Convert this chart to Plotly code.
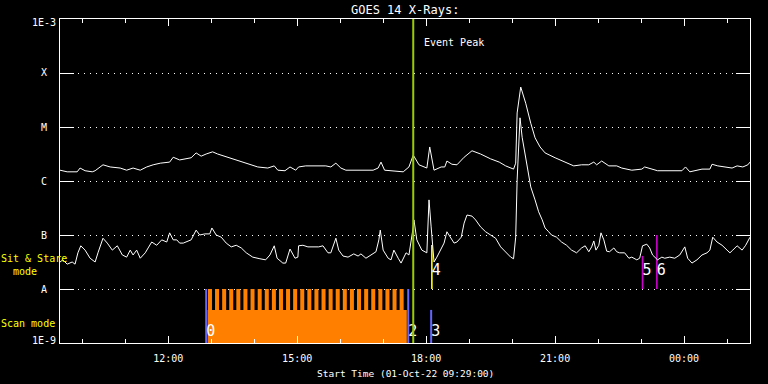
import pandas as pd
import plotly.graph_objects as go

# ---------------- data ----------------
START = pd.Timestamp("2022-10-01 09:29:00")
END = pd.Timestamp("2022-10-02 01:32:00")

# GOES long channel (1-8 A): minutes after start, log10 flux (W/m^2)
long_min = [0, 10, 24, 28, 35, 45, 49, 60, 70, 84, 93, 102, 112, 121, 130, 140, 153, 158, 167,
            183, 190, 197, 204, 213, 220, 234, 248, 262, 276, 290, 299, 304, 314, 321, 329, 333,
            343, 371, 378, 385, 392, 399, 437, 444, 448, 453, 465, 479, 487, 493, 501, 512, 516,
            522, 532, 537, 540, 547, 554, 564, 575, 587, 601, 613, 622, 633, 636, 638, 643, 650,
            657, 663, 670, 677, 691, 705, 717, 728, 738, 745, 749, 756, 766, 777, 784, 798, 812,
            816, 826, 834, 868, 873, 879, 896, 907, 910, 918, 931, 938, 945, 953, 960, 963]
long_log = [-5.80, -5.83, -5.83, -5.76, -5.81, -5.83, -5.81, -5.70, -5.74, -5.76, -5.80, -5.76,
            -5.80, -5.74, -5.70, -5.67, -5.65, -5.56, -5.61, -5.57, -5.48, -5.54, -5.50, -5.46,
            -5.50, -5.56, -5.61, -5.67, -5.74, -5.76, -5.72, -5.80, -5.81, -5.74, -5.80, -5.74,
            -5.72, -5.72, -5.74, -5.67, -5.76, -5.80, -5.80, -5.76, -5.65, -5.80, -5.81, -5.83,
            -5.74, -5.52, -5.70, -5.76, -5.37, -5.80, -5.74, -5.74, -5.63, -5.69, -5.70, -5.56,
            -5.44, -5.50, -5.59, -5.65, -5.72, -5.78, -5.67, -4.74, -4.26, -4.56, -4.93, -5.20,
            -5.37, -5.48, -5.57, -5.65, -5.72, -5.70, -5.70, -5.65, -5.70, -5.63, -5.72, -5.72,
            -5.76, -5.80, -5.78, -5.74, -5.78, -5.81, -5.81, -5.74, -5.83, -5.78, -5.78, -5.69,
            -5.72, -5.74, -5.76, -5.72, -5.74, -5.70, -5.65]

# GOES short channel (0.5-4 A)
short_min = [0, 4, 10, 17, 21, 25, 29, 35, 42, 49, 53, 60, 66, 73, 80, 87, 93, 98, 102, 107, 112,
             119, 123, 128, 135, 142, 149, 153, 158, 163, 167, 172, 183, 190, 195, 202, 209, 212,
             218, 225, 232, 239, 246, 253, 260, 269, 279, 287, 293, 299, 303, 311, 315, 321, 328,
             332, 333, 339, 346, 361, 367, 374, 378, 385, 389, 395, 402, 410, 416, 420, 427, 434,
             441, 445, 447, 451, 458, 462, 466, 472, 476, 483, 487, 493, 494, 498, 505, 512, 515,
             518, 522, 526, 532, 536, 540, 546, 550, 554, 560, 564, 568, 575, 580, 587, 594, 601,
             608, 615, 622, 629, 633, 636, 638, 642, 645, 650, 657, 663, 668, 673, 677, 682, 686,
             693, 700, 707, 714, 721, 728, 733, 738, 742, 745, 748, 752, 755, 759, 763, 767, 773,
             777, 781, 788, 794, 798, 805, 809, 813, 819, 823, 827, 834, 840, 844, 851, 858, 865,
             872, 876, 882, 889, 896, 903, 907, 911, 917, 924, 931, 935, 939, 945, 952, 957, 963]
short_log = [-7.50, -7.46, -7.54, -7.50, -7.54, -7.33, -7.20, -7.28, -7.43, -7.50, -7.33, -7.06,
             -7.15, -7.28, -7.20, -7.37, -7.41, -7.28, -7.37, -7.28, -7.43, -7.33, -7.24, -7.13,
             -7.19, -7.09, -7.13, -6.96, -7.09, -7.09, -7.15, -7.15, -7.09, -6.91, -7.00, -6.98,
             -6.98, -6.87, -7.00, -7.04, -7.15, -7.22, -7.19, -7.24, -7.33, -7.41, -7.44, -7.46,
             -7.37, -7.20, -7.43, -7.52, -7.52, -7.26, -7.43, -7.41, -7.20, -7.19, -7.22, -7.22,
             -7.20, -7.33, -7.33, -7.06, -7.28, -7.39, -7.41, -7.35, -7.39, -7.35, -7.43, -7.37,
             -7.31, -7.09, -6.91, -7.28, -7.43, -7.46, -7.28, -7.43, -7.52, -7.33, -7.37, -6.85,
             -6.72, -7.09, -7.28, -7.33, -6.35, -6.85, -7.50, -7.41, -7.24, -7.15, -6.94, -7.06,
             -7.15, -7.13, -7.04, -6.78, -6.63, -6.65, -6.72, -6.85, -6.94, -7.00, -7.06, -7.22,
             -7.31, -7.41, -7.44, -7.04, -5.98, -4.83, -5.19, -5.61, -6.11, -6.35, -6.57, -6.72,
             -6.87, -6.94, -7.00, -7.04, -7.13, -7.19, -7.28, -7.33, -7.24, -7.20, -7.31, -7.22,
             -7.11, -7.28, -7.19, -6.96, -7.09, -7.30, -7.31, -7.24, -7.31, -7.33, -7.33, -7.43,
             -7.41, -7.46, -7.43, -7.20, -7.17, -7.24, -7.37, -7.46, -7.41, -7.43, -7.41, -7.43,
             -7.37, -7.22, -7.43, -7.52, -7.46, -7.37, -7.33, -7.28, -7.04, -7.13, -7.19, -7.28,
             -7.33, -7.28, -7.20, -7.28, -7.19, -7.04]

# y-axis flux levels and their labels
level_flux = [1e-9, 1e-8, 1e-7, 1e-6, 1e-5, 1e-4, 1e-3]
level_text = ["1E-9", "A", "B", "C", "M", "X", "1E-3"]

# event peak (minutes after start)
event_peak_min = 493
event_peak_text = "Event Peak"

# scan-mode observations
scan_line_min = [204, 486, 518]
scan_line_text = ["0", "2", "3"]
scan_line_top = [1e-8, 1e-8, 4.1e-9]
scan_block_start, scan_block_end = 206, 484
scan_block_top = 4.1e-9
raster_start = [206.5, 216.4, 226.3, 236.2, 246.1, 256.0, 265.9, 275.9, 285.8, 295.7, 305.6,
                315.5, 325.4, 335.3, 345.2, 355.1, 365.0, 374.9, 384.8, 394.7, 404.6, 414.5,
                424.5, 434.4, 444.3, 454.2, 464.1, 474.0]
raster_end = [212.1, 222.0, 231.9, 241.8, 251.7, 261.6, 271.5, 281.5, 291.4, 301.3, 311.2,
              321.1, 331.0, 340.9, 350.8, 360.7, 370.6, 380.5, 390.4, 400.3, 410.2, 420.1,
              430.1, 440.0, 449.9, 459.8, 469.7, 479.6]

# sit & stare observations
stare_min = [519, 813, 833]
stare_text = ["4", "5", "6"]
stare_top = [6.5e-8, 4.1e-8, 1.0e-7]
stare_color = ["#ffff00", "#cc00cc", "#cc00cc"]

label_flux = 1.55e-9
stare_label_flux = 2.15e-8

# ---------------- figure ----------------
def t(m):
    return START + pd.Timedelta(minutes=m)

FONT = "DejaVu Sans Mono"
fig = go.Figure()

# orange scan block
fig.add_trace(go.Scatter(
    x=[t(scan_block_start), t(scan_block_end), t(scan_block_end), t(scan_block_start)],
    y=[1e-9, 1e-9, scan_block_top, scan_block_top],
    fill="toself", fillcolor="#ff8000", line=dict(width=0), mode="lines", hoverinfo="skip"))
cx, cy = [], []
for s, e in zip(raster_start, raster_end):
    cx += [t(s), t(e), t(e), t(s), t(s), None]
    cy += [scan_block_top, scan_block_top, 1e-8, 1e-8, scan_block_top, None]
fig.add_trace(go.Scatter(x=cx, y=cy, fill="toself", fillcolor="#ff8000",
                         line=dict(width=0), mode="lines", hoverinfo="skip"))

# scan lines
for m, top in zip(scan_line_min, scan_line_top):
    fig.add_trace(go.Scatter(x=[t(m), t(m)], y=[1e-9, top], mode="lines",
                             line=dict(color="#6464ff", width=2), hoverinfo="skip"))
fig.add_trace(go.Scatter(x=[t(m) for m in scan_line_min], y=[label_flux] * 3,
                         mode="text", text=scan_line_text, textposition="middle right",
                         textfont=dict(family=FONT, size=15, color="white")))

# sit & stare lines
for m, top, c in zip(stare_min, stare_top, stare_color):
    fig.add_trace(go.Scatter(x=[t(m), t(m)], y=[1e-8, top], mode="lines",
                             line=dict(color=c, width=1.6), hoverinfo="skip"))
fig.add_trace(go.Scatter(x=[t(m) for m in stare_min], y=[stare_label_flux] * 3,
                         mode="text", text=stare_text, textposition="middle right",
                         textfont=dict(family=FONT, size=15, color="white")))

# light curves
fig.add_trace(go.Scatter(x=[t(m) for m in long_min], y=[10 ** v for v in long_log],
                         mode="lines", line=dict(color="white", width=1)))
fig.add_trace(go.Scatter(x=[t(m) for m in short_min], y=[10 ** v for v in short_log],
                         mode="lines", line=dict(color="white", width=1)))

# event peak line
fig.add_trace(go.Scatter(x=[t(event_peak_min)] * 2, y=[1e-9, 1e-3], mode="lines",
                         line=dict(color="#99cc00", width=2), hoverinfo="skip"))

annotations = []
for i, lab in enumerate(level_text):
    ys = -3 if i == 6 else (3 if i == 0 else 0)
    annotations.append(dict(text=lab, xref="paper", yref="paper", x=-0.0232, y=i / 6,
                            xanchor="center", yanchor="middle", yshift=ys, showarrow=False,
                            font=dict(family=FONT, size=10, color="white")))
annotations += [
    dict(text="GOES 14 X-Rays:", xref="paper", yref="paper", x=0.5, y=1.0278,
         xanchor="center", yanchor="middle", showarrow=False,
         font=dict(family=FONT, size=12, color="white")),
    dict(text=event_peak_text, xref="x", yref="paper", x=t(event_peak_min), y=0.926,
         xanchor="left", yanchor="middle", xshift=9, showarrow=False,
         font=dict(family=FONT, size=10, color="white")),
    dict(text="Start Time (01-Oct-22 09:29:00)", xref="paper", yref="paper", x=0.5, y=-0.095,
         xanchor="center", yanchor="middle", showarrow=False,
         font=dict(family=FONT, size=9.5, color="white")),
    dict(text="Sit & Stare", xref="paper", yref="paper", x=-0.037, y=0.2608,
         xanchor="center", yanchor="middle", showarrow=False,
         font=dict(family=FONT, size=10, color="#ffff00")),
    dict(text="mode", xref="paper", yref="paper", x=-0.0514, y=0.2222,
         xanchor="center", yanchor="middle", showarrow=False,
         font=dict(family=FONT, size=10, color="#ffff00")),
    dict(text="Scan mode", xref="paper", yref="paper", x=-0.0457, y=0.0602,
         xanchor="center", yanchor="middle", showarrow=False,
         font=dict(family=FONT, size=10, color="#ffff00")),
]

fig.update_layout(
    width=768, height=384, margin=dict(l=60, r=18, t=19, b=41),
    paper_bgcolor="black", plot_bgcolor="black", showlegend=False,
    annotations=annotations,
    xaxis=dict(type="date", range=[START, END], showgrid=False, zeroline=False,
               showline=True, linecolor="white", linewidth=1, mirror="ticks",
               ticks="inside", ticklen=7, tickcolor="white", tickwidth=1,
               dtick=3 * 3600000, tick0="2022-10-01 00:00", tickformat="%H:%M",
               tickfont=dict(family=FONT, size=10, color="white"), ticklabelstandoff=6,
               minor=dict(dtick=3600000, ticks="inside", ticklen=4, tickcolor="white",
                          showgrid=False)),
    yaxis=dict(type="log", range=[-9, -3], tickvals=level_flux, showticklabels=False,
               showline=True, linecolor="white", linewidth=1, mirror="ticks",
               ticks="inside", ticklen=14, tickcolor="white", tickwidth=1,
               showgrid=True, gridcolor="white", gridwidth=1, griddash="1px,5px",
               zeroline=False),
)

fig.write_html("out.html")
